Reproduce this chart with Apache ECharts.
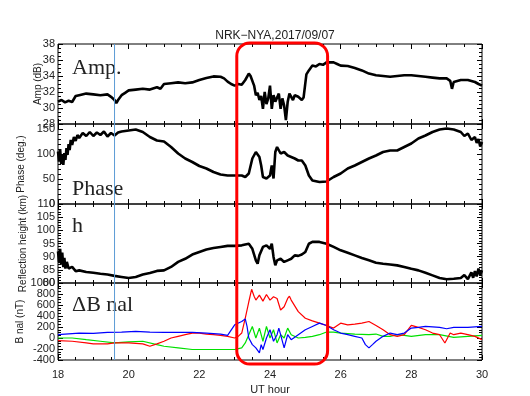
<!DOCTYPE html>
<html lang="en">
<head>
    <meta charset="UTF-8">
    <title>NRK-NYA 2017/09/07</title>
    <script src="https://cdn.jsdelivr.net/npm/echarts@6/dist/echarts.min.js"></script>
    <style>
        body { margin: 0; background: #fff; }
        #main { width: 530px; height: 396px; }
    </style>
</head>
<body>
    <div id="main"></div>
    <script type="text/javascript">
        // 振幅 (dB)
        var ampHours = [18.0, 18.1, 18.2, 18.3, 18.4, 18.45, 18.5, 18.6, 18.8, 19.0, 19.2, 19.4, 19.5, 19.6, 19.65, 19.7, 19.8, 19.9, 20.0, 20.2, 20.4, 20.6, 20.8, 20.9, 21.0, 21.2, 21.4, 21.6, 21.8, 22.0, 22.2, 22.4, 22.6, 22.7, 22.8, 22.9, 23.0, 23.1, 23.2, 23.3, 23.4, 23.45, 23.5, 23.55, 23.6, 23.65, 23.7, 23.75, 23.8, 23.85, 23.9, 23.95, 24.0, 24.05, 24.1, 24.15, 24.2, 24.25, 24.3, 24.35, 24.4, 24.45, 24.5, 24.55, 24.6, 24.65, 24.7, 24.8, 24.9, 24.95, 25.0, 25.03, 25.1, 25.2, 25.3, 25.4, 25.5, 25.6, 25.8, 25.9, 26.0, 26.2, 26.4, 26.6, 26.8, 27.0, 27.2, 27.4, 27.6, 27.8, 28.0, 28.2, 28.4, 28.6, 28.8, 29.0, 29.1, 29.15, 29.2, 29.4, 29.6, 29.8, 29.9, 30.0];
        var ampValues = [30.8, 31.0, 30.7, 30.9, 30.75, 30.9, 31.5, 31.6, 31.8, 31.7, 31.6, 31.7, 31.4, 31.0, 30.6, 31.0, 31.6, 31.9, 32.2, 32.3, 32.4, 32.3, 32.6, 32.4, 33.0, 33.1, 33.2, 33.1, 33.2, 33.5, 33.75, 33.95, 33.9, 33.7, 33.3, 33.0, 32.8, 33.0, 32.9, 33.5, 34.3, 34.0, 33.9, 32.8, 31.6, 31.9, 31.0, 31.5, 29.9, 32.0, 30.5, 31.2, 32.8, 29.9, 31.6, 30.8, 31.0, 31.8, 29.9, 31.2, 30.3, 28.5, 30.75, 31.8, 32.0, 31.0, 31.6, 31.4, 31.0, 31.3, 31.2, 34.2, 34.7, 35.3, 35.2, 35.5, 35.4, 35.7, 35.7, 35.5, 35.3, 35.25, 35.0, 34.7, 34.3, 34.1, 34.0, 33.9, 34.0, 34.1, 34.1, 34.0, 33.9, 33.8, 33.7, 33.7, 33.4, 32.4, 33.25, 33.5, 33.5, 33.25, 33.0, 32.8];

        // 相位 (deg.)
        var phaseHours = [18.0, 18.03, 18.06, 18.09, 18.12, 18.15, 18.18, 18.21, 18.24, 18.27, 18.3, 18.33, 18.36, 18.4, 18.45, 18.5, 18.55, 18.6, 18.7, 18.8, 18.9, 19.0, 19.1, 19.2, 19.3, 19.4, 19.5, 19.6, 19.7, 19.8, 20.0, 20.2, 20.4, 20.6, 20.8, 21.0, 21.2, 21.4, 21.6, 21.8, 22.0, 22.2, 22.4, 22.6, 22.8, 23.0, 23.2, 23.3, 23.4, 23.5, 23.6, 23.63, 23.7, 23.75, 23.8, 23.9, 24.0, 24.05, 24.1, 24.15, 24.2, 24.3, 24.4, 24.5, 24.6, 24.7, 24.8, 24.9, 25.0, 25.1, 25.2, 25.4, 25.6, 25.8, 26.0, 26.2, 26.4, 26.6, 26.8, 27.0, 27.2, 27.4, 27.6, 27.8, 28.0, 28.2, 28.4, 28.6, 28.8, 29.0, 29.2, 29.4, 29.5, 29.6, 29.7, 29.8, 29.85, 29.9, 29.95, 30.0];
        var phaseValues = [105, 85, 110, 80, 100, 78, 102, 88, 112, 98, 120, 108, 128, 118, 134, 126, 138, 132, 142, 136, 144, 136, 143, 138, 145, 135, 142, 137, 143, 145, 147, 149, 144, 134, 127, 125, 114, 101, 91, 84, 76, 71, 64, 59, 57, 57, 57, 54, 61, 91, 104, 107, 94, 77, 54, 51, 57, 77, 51, 104, 114, 101, 104, 97, 94, 91, 87, 87, 77, 57, 47, 44, 45, 54, 61, 71, 77, 84, 91, 97, 104, 107, 107, 114, 121, 131, 137, 144, 149, 151, 149, 144, 136, 141, 128, 134, 122, 130, 115, 124];

        // 反射高度 (km)
        var hHours = [18.0, 18.03, 18.06, 18.09, 18.12, 18.15, 18.18, 18.21, 18.25, 18.3, 18.4, 18.5, 18.6, 18.8, 19.0, 19.2, 19.4, 19.6, 19.8, 20.0, 20.2, 20.4, 20.6, 20.8, 21.0, 21.2, 21.4, 21.6, 21.8, 22.0, 22.2, 22.4, 22.6, 22.8, 23.0, 23.2, 23.3, 23.4, 23.5, 23.6, 23.65, 23.7, 23.8, 23.9, 24.0, 24.05, 24.1, 24.15, 24.2, 24.3, 24.4, 24.5, 24.6, 24.7, 24.8, 24.9, 25.0, 25.1, 25.2, 25.4, 25.6, 25.8, 26.0, 26.2, 26.4, 26.6, 26.8, 27.0, 27.2, 27.4, 27.6, 27.8, 28.0, 28.2, 28.4, 28.6, 28.8, 29.0, 29.2, 29.4, 29.5, 29.6, 29.7, 29.75, 29.8, 29.85, 29.9, 29.95, 30.0];
        var hValues = [92, 88, 93, 87, 91.5, 86, 89.5, 85.5, 88, 85.5, 86.1, 84.5, 84.8, 84.2, 83.9, 83.5, 83.2, 82.7, 82.3, 81.9, 82.3, 83.2, 83.8, 84.6, 84.8, 86.1, 88.0, 89.2, 90.8, 91.8, 92.7, 93.3, 93.7, 94.1, 94.1, 94.3, 94.6, 94.9, 93.0, 88.6, 87.3, 90.5, 93.7, 94.3, 93.0, 94.9, 89.9, 86.7, 88.6, 89.2, 88.0, 88.6, 89.2, 90.5, 90.3, 90.8, 91.8, 94.9, 95.6, 95.6, 94.9, 93.7, 92.4, 91.5, 90.5, 89.5, 88.6, 87.7, 87.3, 87.0, 86.7, 86.1, 85.4, 84.8, 83.9, 82.9, 81.9, 81.4, 81.6, 81.9, 83.0, 81.5, 84.0, 82.0, 84.5, 82.5, 85.5, 83.0, 84.8];

        // 磁场 ΔB (nT)
        var redHours = [18.0, 18.4, 18.8, 19.0, 19.4, 19.6, 20.0, 20.4, 20.6, 20.8, 21.0, 21.2, 21.4, 21.6, 21.8, 22.0, 22.2, 22.4, 22.6, 22.8, 23.0, 23.1, 23.2, 23.3, 23.4, 23.48, 23.55, 23.6, 23.7, 23.8, 23.9, 24.0, 24.1, 24.2, 24.3, 24.4, 24.5, 24.55, 24.6, 24.8, 25.0, 25.2, 25.4, 25.6, 25.8, 26.0, 26.2, 26.4, 26.6, 26.8, 27.0, 27.2, 27.4, 27.6, 27.8, 28.0, 28.2, 28.4, 28.6, 28.8, 28.95, 29.1, 29.2, 29.4, 29.6, 29.8, 30.0];
        var redValues = [-48, -59, -89, -107, -107, -89, -89, -107, -150, -107, -59, 0, 30, 60, 90, 90, 72, 60, 48, 30, 0, 30, 90, 360, 659, 886, 760, 689, 779, 671, 791, 689, 749, 719, 509, 569, 719, 761, 689, 479, 360, 312, 270, 228, 180, 270, 240, 252, 270, 300, 228, 150, 60, 30, 60, 230, 192, 150, 90, 60, -90, 90, 60, 90, 60, 30, -30];
        var blueHours = [18.0, 18.2, 18.6, 19.0, 19.4, 19.8, 20.2, 20.6, 21.0, 21.4, 21.8, 22.2, 22.6, 22.8, 23.0, 23.2, 23.3, 23.35, 23.4, 23.5, 23.6, 23.7, 23.75, 23.8, 23.9, 24.0, 24.1, 24.2, 24.25, 24.3, 24.4, 24.45, 24.5, 24.6, 24.8, 25.0, 25.2, 25.4, 25.6, 25.8, 26.0, 26.2, 26.4, 26.6, 26.7, 26.8, 26.9, 27.0, 27.2, 27.4, 27.6, 27.8, 28.0, 28.2, 28.4, 28.8, 29.0, 29.2, 29.6, 30.0];
        var blueValues = [60, 72, 90, 84, 102, 108, 120, 108, 102, 102, 102, 90, 72, 48, 240, 300, 348, 210, 0, -120, -179, -269, -120, -209, 0, 150, -59, 60, 180, 60, -179, -59, 60, -30, 60, 150, 210, 270, 228, 150, 90, 60, 30, 0, -120, -179, -120, -59, 30, 90, 60, 90, 180, 192, 210, 192, 168, 192, 192, 210];
        var greenHours = [18.0, 18.4, 18.8, 19.2, 19.6, 20.0, 20.4, 20.8, 21.0, 21.4, 21.8, 22.2, 22.6, 23.0, 23.2, 23.3, 23.4, 23.5, 23.6, 23.7, 23.8, 23.9, 24.0, 24.1, 24.2, 24.3, 24.4, 24.5, 24.6, 24.8, 25.0, 25.2, 25.4, 25.6, 25.8, 26.0, 26.4, 26.8, 27.0, 27.2, 27.4, 27.6, 27.8, 28.0, 28.4, 28.8, 29.2, 29.6, 30.0];
        var greenValues = [0, 0, -30, -59, -89, -71, -59, -120, -150, -179, -209, -209, -209, -209, -179, -89, 60, 210, 0, 180, -59, 210, 0, 150, -89, 60, 0, 180, 60, 0, 12, 30, 60, 108, 108, 90, 72, 60, 72, 30, 30, 60, 48, 30, 60, 60, 12, 30, 48];

        // 注释: 蓝线时刻, 红框时间范围
        var markHour = 19.6;
        var boxHours = [23.06, 25.63];

        function pairs(hours, values) {
            return hours.map(function (t, i) { return [t, values[i]]; });
        }

        var font = '"Liberation Sans", Arial, sans-serif';
        var tops = [44, 124, 204, 283];
        var heights = [80, 80, 79, 78];
        var yRanges = [
            { min: 28, max: 38, interval: 2, minor: 4, name: 'Amp (dB)', gap: 15 },
            { min: 0, max: 160, interval: 50, minor: 5, name: 'Phase (deg.)', gap: 32 },
            { min: 80, max: 110, interval: 5, minor: 5, name: 'Reflection height (km)', gap: 30 },
            { min: -400, max: 1000, interval: 200, minor: 4, name: 'B nal (nT)', gap: 33 }
        ];

        var grids = [], xAxes = [], yAxes = [];
        for (var i = 0; i < 4; i++) {
            grids.push({ left: 58, width: 424, top: tops[i], height: heights[i], show: true, borderColor: '#000', borderWidth: 1, backgroundColor: 'transparent' });
        }
        // 下方 x 轴 0-3, 上方 x 轴 4-7
        for (var k = 0; k < 8; k++) {
            var g = k % 4;
            var bottomLabels = (k === 3);
            xAxes.push({
                type: 'value', gridIndex: g, min: 18, max: 30, interval: 2,
                position: k < 4 ? 'bottom' : 'top',
                axisLine: { show: false, onZero: false },
                axisTick: { show: true, inside: true, length: 5, lineStyle: { color: '#000' } },
                minorTick: { show: true, splitNumber: 4, length: 3, lineStyle: { color: '#000' } },
                splitLine: { show: false },
                axisLabel: { show: bottomLabels, color: '#222', fontSize: 11, fontFamily: font, margin: 9 },
                name: bottomLabels ? 'UT hour' : '',
                nameLocation: 'middle', nameGap: 24, nameMoveOverlap: false,
                nameTextStyle: { color: '#222', fontSize: 11, fontFamily: font }
            });
        }
        // 左侧 y 轴 0-3, 右侧 y 轴 4-7
        for (var k = 0; k < 8; k++) {
            var g = k % 4;
            var r = yRanges[g];
            var left = k < 4;
            yAxes.push({
                type: 'value', gridIndex: g, min: r.min, max: r.max, interval: r.interval,
                position: left ? 'left' : 'right',
                axisLine: { show: false, onZero: false },
                axisTick: { show: true, inside: true, length: 5, lineStyle: { color: '#000' } },
                minorTick: { show: true, splitNumber: r.minor, length: 3, lineStyle: { color: '#000' } },
                splitLine: { show: false },
                axisLabel: {
                    show: left, color: '#222', fontSize: 11, fontFamily: font, margin: 3,
                    formatter: (function (iv) { return function (v) { return (v % iv === 0) ? String(v) : ''; }; })(r.interval)
                },
                name: left ? r.name : '',
                nameLocation: 'middle', nameGap: r.gap, nameMoveOverlap: false,
                nameTextStyle: { color: '#222', fontSize: 10, fontFamily: font }
            });
        }

        function lineSeries(gi, data, color, width, z) {
            return {
                type: 'line', xAxisIndex: gi, yAxisIndex: gi, data: data,
                showSymbol: false, symbol: 'none', animation: false, z: z || 2,
                lineStyle: { color: color, width: width },
                itemStyle: { color: color }
            };
        }

        var series = [
            lineSeries(0, pairs(ampHours, ampValues), '#000', 2.6, 3),
            lineSeries(1, pairs(phaseHours, phaseValues), '#000', 2.6, 3),
            lineSeries(2, pairs(hHours, hValues), '#000', 2.6, 3),
            lineSeries(3, pairs(greenHours, greenValues), '#00e000', 1.2, 3),
            lineSeries(3, pairs(redHours, redValues), '#ff0000', 1.2, 3),
            lineSeries(3, pairs(blueHours, blueValues), '#0000ff', 1.2, 3)
        ];

        var option = {
            backgroundColor: '#fff',
            animation: false,
            title: {
                text: 'NRK\u2212NYA,2017/09/07', left: 270, top: 25, textAlign: 'center',
                textStyle: { color: '#222', fontSize: 12, fontWeight: 'normal', fontFamily: font }
            },
            grid: grids,
            xAxis: xAxes,
            yAxis: yAxes,
            series: series
        };

        var myChart = echarts.init(document.getElementById('main'), null, { renderer: 'canvas' });
        myChart.setOption(option);

        // 蓝色竖线、红框和面板内标签 (位置由坐标轴换算)
        var xm = myChart.convertToPixel({ xAxisIndex: 0 }, markHour);
        var x0 = myChart.convertToPixel({ xAxisIndex: 0 }, boxHours[0]);
        var x1 = myChart.convertToPixel({ xAxisIndex: 0 }, boxHours[1]);
        var yPlotTop = myChart.convertToPixel({ yAxisIndex: 0 }, 38);
        var yPlotBot = myChart.convertToPixel({ yAxisIndex: 3 }, -400);
        var serif = '"Liberation Serif", "DejaVu Serif", serif';
        var bigText = [['Amp.', 74], ['Phase', 195], ['h', 232], ['\u0394B nal', 311]];
        var graphics = bigText.map(function (t) {
            return {
                type: 'text', left: 72, top: t[1] - 17, z: 50,
                style: { text: t[0], fill: '#222', font: '22px ' + serif }
            };
        });
        graphics.push({
            type: 'line', zlevel: 1, z: 1000, silent: true,
            shape: { x1: xm, y1: yPlotTop, x2: xm, y2: yPlotBot },
            style: { stroke: '#5b9bd5', lineWidth: 1 }
        });
        graphics.push({
            type: 'rect', zlevel: 1, z: 1001,
            shape: { x: x0, y: yPlotTop - 1, width: x1 - x0, height: yPlotBot - yPlotTop + 5, r: 13 },
            style: { fill: 'none', stroke: '#ff0000', lineWidth: 3 }
        });
        myChart.setOption({ graphic: graphics });
    </script>
</body>
</html>
